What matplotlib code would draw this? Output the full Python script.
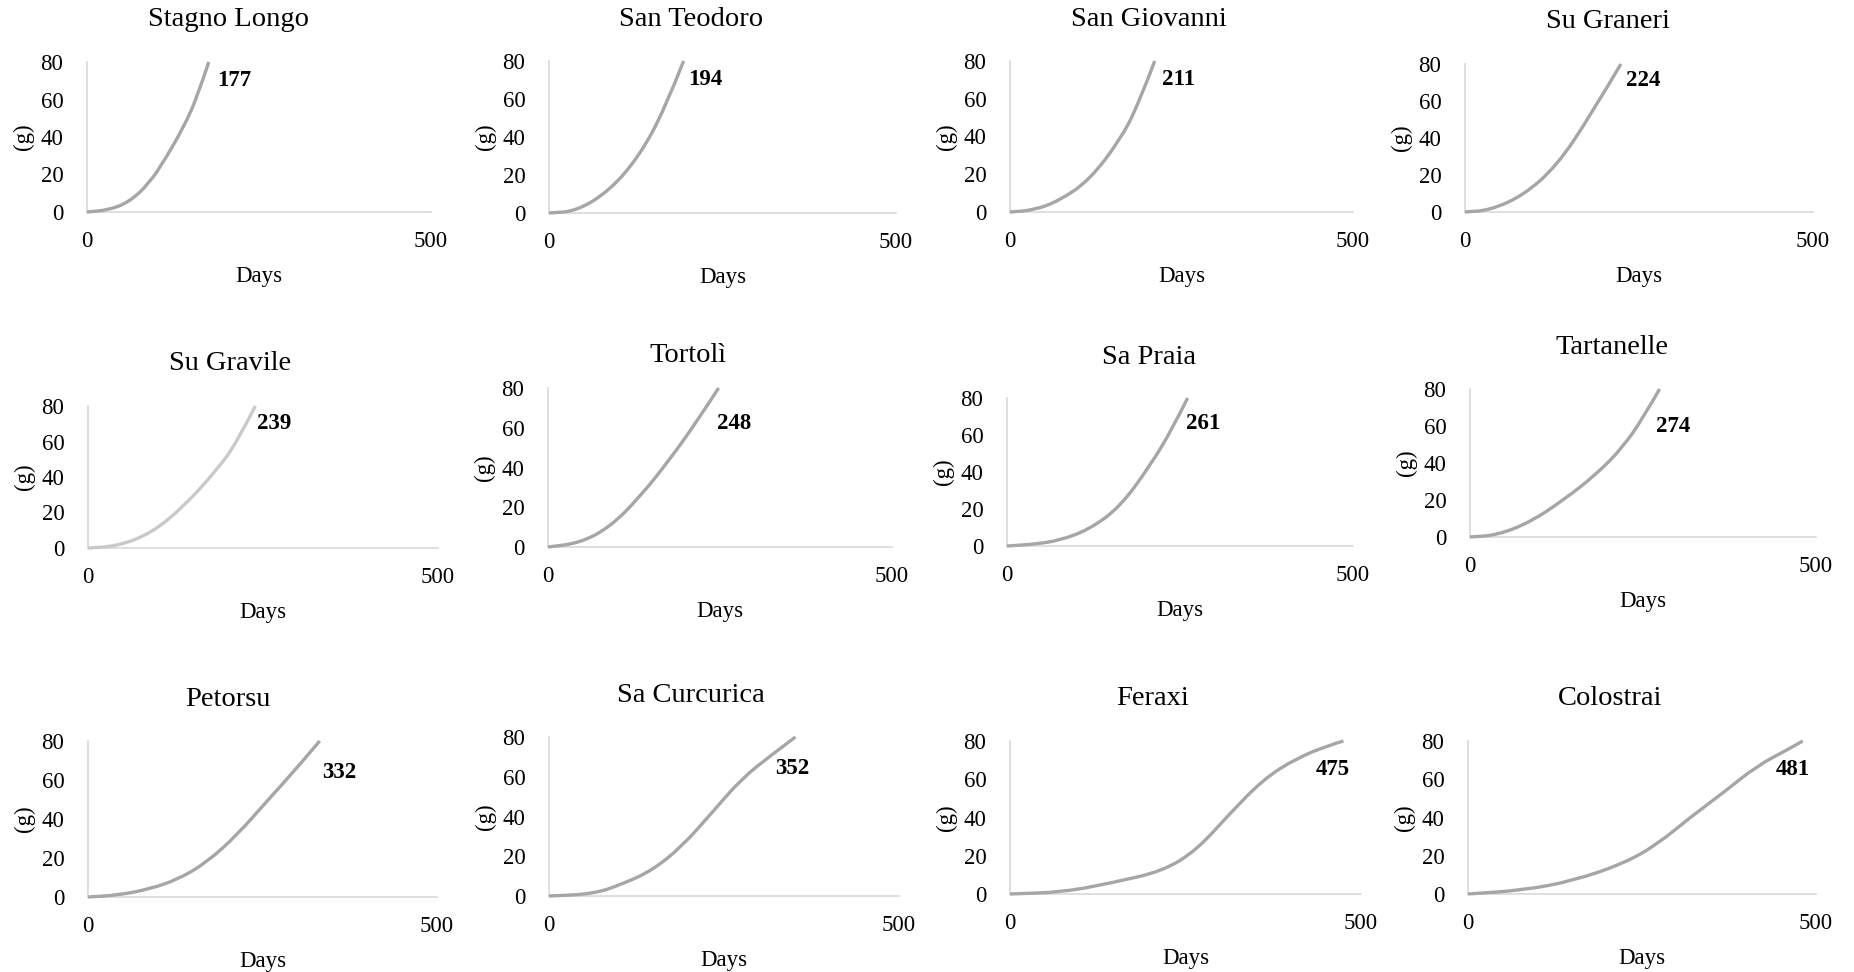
import matplotlib
matplotlib.use("Agg")
import matplotlib.pyplot as plt
from matplotlib.path import Path
from matplotlib.patches import PathPatch

plt.rcParams["font.family"] = ["Liberation Serif", "DejaVu Serif"]

W, H, DPI = 1854, 972, 100

# ---------------------------------------------------------------------------
# Data (days vs. weight in g), one pair per site
# ---------------------------------------------------------------------------
sites = ["Stagno Longo", "San Teodoro", "San Giovanni", "Su Graneri",
         "Su Gravile", "Tortolì", "Sa Praia", "Tartanelle",
         "Petorsu", "Sa Curcurica", "Feraxi", "Colostrai"]
days_to_80 = [177, 194, 211, 224, 239, 248, 261, 274, 332, 352, 475, 481]

stagno_d = [0, 30, 60, 90, 115, 140, 160, 177]
stagno_g = [0, 1, 5, 15, 29, 45, 61, 80]
teodoro_d = [0, 40, 88, 130, 166, 194]
teodoro_g = [0, 1, 12, 30, 54, 80]
giovanni_d = [0, 35, 72, 116, 160, 186, 211]
giovanni_g = [0, 1, 6, 17, 38, 56, 80]
graneri_d = [0, 36, 84, 132, 180, 224]
graneri_g = [0, 1, 9, 25, 52, 80]
gravile_d = [0, 41, 89, 136, 184, 212, 239]
gravile_g = [0, 1, 8, 23, 44, 59, 80]
tortoli_d = [0, 46, 90, 133, 177, 220, 248]
tortoli_g = [0, 2, 10, 25, 44, 65, 80]
praia_d = [0, 40, 76, 119, 163, 206, 240, 261]
praia_g = [0, 1, 3, 9, 21, 43, 64, 80]
tartanelle_d = [0, 39, 87, 135, 183, 222, 251, 274]
tartanelle_g = [0, 1, 8, 20, 34, 49, 65, 80]
petorsu_d = [0, 44, 87, 129, 171, 214, 256, 299, 332]
petorsu_g = [0, 1, 4, 9, 18, 32, 49, 66, 80]
curcurica_d = [0, 63, 105, 148, 190, 233, 275, 318, 352]
curcurica_g = [0, 1, 6, 13, 25, 42, 59, 71, 80]
feraxi_d = [0, 76, 147, 218, 266, 313, 361, 408, 456, 475]
feraxi_g = [0, 1, 6, 12, 23, 42, 60, 71, 78, 80]
colostrai_d = [0, 80, 152, 224, 272, 319, 367, 415, 462, 481]
colostrai_g = [0, 2, 7, 16, 26, 40, 53, 67, 76, 80]

curves = [(stagno_d, stagno_g), (teodoro_d, teodoro_g), (giovanni_d, giovanni_g),
          (graneri_d, graneri_g), (gravile_d, gravile_g), (tortoli_d, tortoli_g),
          (praia_d, praia_g), (tartanelle_d, tartanelle_g), (petorsu_d, petorsu_g),
          (curcurica_d, curcurica_g), (feraxi_d, feraxi_g), (colostrai_d, colostrai_g)]

# ---------------------------------------------------------------------------
# Layout (pixels in the 1854x972 canvas)
# ---------------------------------------------------------------------------
# axes box: left, right, top (y=80), bottom (y=0)
boxes = [(87, 431, 62, 212), (549, 896, 61, 213), (1010, 1353, 61, 212), (1465, 1813, 64, 212),
         (88, 438, 406, 548), (548, 892, 388, 547), (1007, 1353, 398, 546), (1470, 1816, 389, 537),
         (88, 437, 741, 897), (549, 899, 737, 896), (1010, 1361, 741, 894), (1468, 1816, 741, 894)]
title_xy = [(228, 20), (691, 20), (1149, 20), (1608, 22),
            (230, 363), (688, 355), (1149, 357), (1612, 347),
            (228, 699), (691, 695), (1153, 698), (1610, 698)]
# annotation anchor in data coordinates
label_xy = [(189, 70), (200, 70), (222, 70), (231, 71),
            (242, 70), (245, 62), (258, 66), (269, 60),
            (335, 64), (323, 64), (436, 65), (442, 65)]

LINE = "#a6a6a6"
SPINE = "#d9d9d9"


def smooth_path(xs, ys):
    """Quadratic Bezier path through the midpoints, using read points as controls."""
    pts = list(zip(xs, ys))
    verts = [pts[0]]
    codes = [Path.MOVETO]
    if len(pts) > 2:
        verts.append(((pts[0][0] + pts[1][0]) / 2, (pts[0][1] + pts[1][1]) / 2))
        codes.append(Path.LINETO)
        for k in range(1, len(pts) - 1):
            nxt = pts[k + 1]
            end = nxt if k == len(pts) - 2 else ((pts[k][0] + nxt[0]) / 2, (pts[k][1] + nxt[1]) / 2)
            verts += [pts[k], end]
            codes += [Path.CURVE3, Path.CURVE3]
    else:
        verts.append(pts[-1])
        codes.append(Path.LINETO)
    return Path(verts, codes)


fig = plt.figure(figsize=(W / DPI, H / DPI), dpi=DPI)

for i, site in enumerate(sites):
    left, right, top, bottom = boxes[i]
    ax = fig.add_axes([left / W, 1 - bottom / H, (right - left) / W, (bottom - top) / H])
    d, g = curves[i]
    color = "#c9c9c9" if site == "Su Gravile" else LINE
    ax.add_patch(PathPatch(smooth_path(d, g), facecolor="none", edgecolor=color,
                           lw=2.4, capstyle="butt", joinstyle="round",
                           clip_on=False, zorder=3))

    ax.set_xlim(0, 500)
    ax.set_ylim(0, 80)
    ax.set_xticks([0, 500])
    ax.set_yticks([0, 20, 40, 60, 80])
    ax.tick_params(axis="both", length=0, labelsize=16.5)
    ax.tick_params(axis="x", pad=13.5)
    ax.tick_params(axis="y", pad=17)
    for s in ("top", "right"):
        ax.spines[s].set_visible(False)
    for s in ("left", "bottom"):
        ax.spines[s].set_color(SPINE)
        ax.spines[s].set_linewidth(1.2)

    ax.set_xlabel("Days", fontsize=16.5, labelpad=10)
    ax.set_ylabel("(g)", fontsize=16.5)
    ax.yaxis.set_label_coords(-53 / (right - left), 0.5)

    lx, ly = label_xy[i]
    ax.text(lx, ly, str(days_to_80[i]), fontsize=16.5, fontweight="bold",
            ha="left", va="center")

    tx, ty = title_xy[i]
    fig.text(tx / W, 1 - ty / H, site, fontsize=20.5, ha="center", va="center")

fig.savefig("out.png", dpi=DPI)
